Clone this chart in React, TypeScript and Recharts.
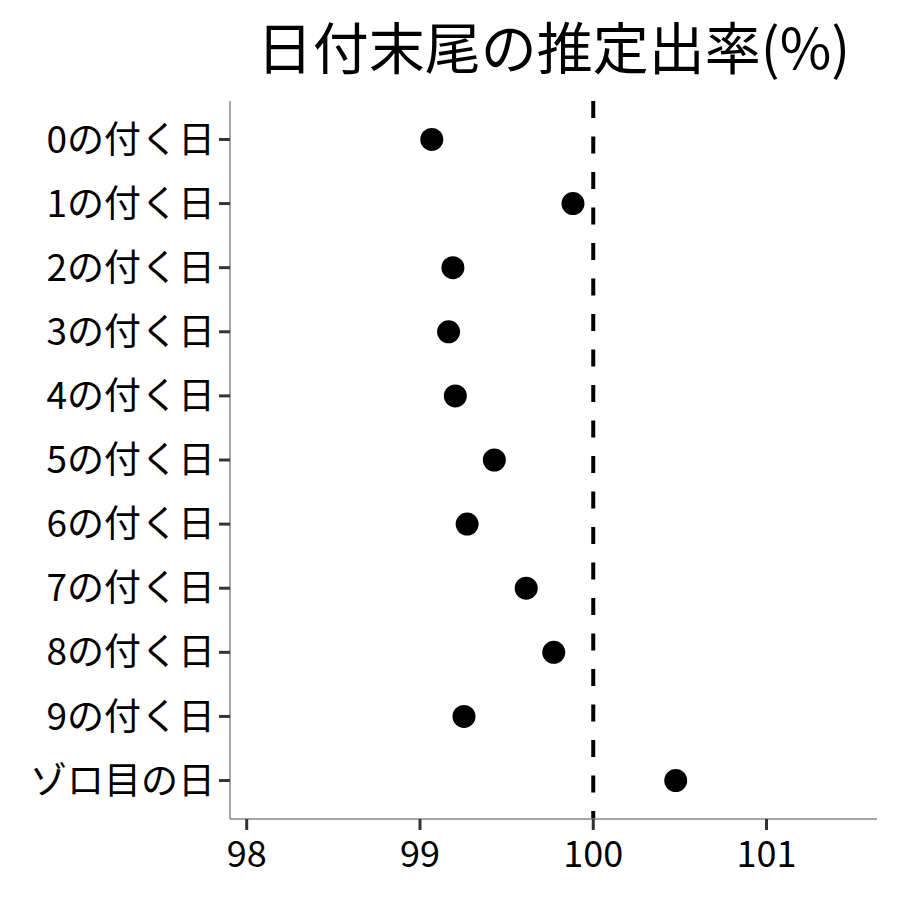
import React from "react";
import {
  ScatterChart, Scatter, XAxis, YAxis, ReferenceLine
} from "recharts";

const CATEGORIES = [
  "0の付く日", "1の付く日", "2の付く日", "3の付く日", "4の付く日",
  "5の付く日", "6の付く日", "7の付く日", "8の付く日", "9の付く日", "ゾロ目の日",
];
const RATES = [99.068, 99.883, 99.19, 99.165, 99.204, 99.429, 99.272, 99.613, 99.772, 99.254, 100.476];
const X_TICKS = [98, 99, 100, 101];
const TITLE = "日付末尾の推定出率(%)";

const FONT = "'Noto Sans CJK JP', 'Noto Sans', sans-serif";

const data = CATEGORIES.map((label, i) => ({ label, pos: i, rate: RATES[i] }));

const Dot = (props: any) => (
  <circle cx={props.cx} cy={props.cy} r={11.5} fill="#000" />
);

export default function App() {
  return (
    <div style={{ position: "absolute", left: 0, top: 0, width: 900, height: 900, background: "#fff", fontFamily: FONT }}>
      <div style={{
        position: "absolute", left: 230, width: 647, top: 10, textAlign: "center",
        fontSize: 56, lineHeight: "70px", color: "#000",
      }}>
        {TITLE}
      </div>
      <ScatterChart width={900} height={900} margin={{ top: 101, right: 23, bottom: 0, left: 0 }}>
        <XAxis
          type="number"
          dataKey="rate"
          domain={[97.9035, 101.6376]}
          ticks={X_TICKS}
          allowDataOverflow
          height={81}
          tickSize={11}
          tickMargin={11}
          axisLine={{ stroke: "#888", strokeWidth: 1.5 }}
          tickLine={{ stroke: "#333", strokeWidth: 3 }}
          tick={{ fill: "#000", fontSize: 36, fontFamily: FONT }}
        />
        <YAxis
          type="number"
          dataKey="pos"
          domain={[-0.6, 10.6]}
          ticks={CATEGORIES.map((_, i) => i)}
          tickFormatter={(i: number) => CATEGORIES[i]}
          reversed
          interval={0}
          width={230}
          tickSize={11}
          tickMargin={4}
          axisLine={{ stroke: "#888", strokeWidth: 1.5 }}
          tickLine={{ stroke: "#333", strokeWidth: 3 }}
          tick={{ fill: "#000", fontSize: 37, fontFamily: FONT }}
        />
        <ReferenceLine x={100} stroke="#000" strokeWidth={4} strokeDasharray="17 18.5" strokeDashoffset={9} />
        <Scatter data={data} shape={<Dot />} isAnimationActive={false} />
      </ScatterChart>
    </div>
  );
}
